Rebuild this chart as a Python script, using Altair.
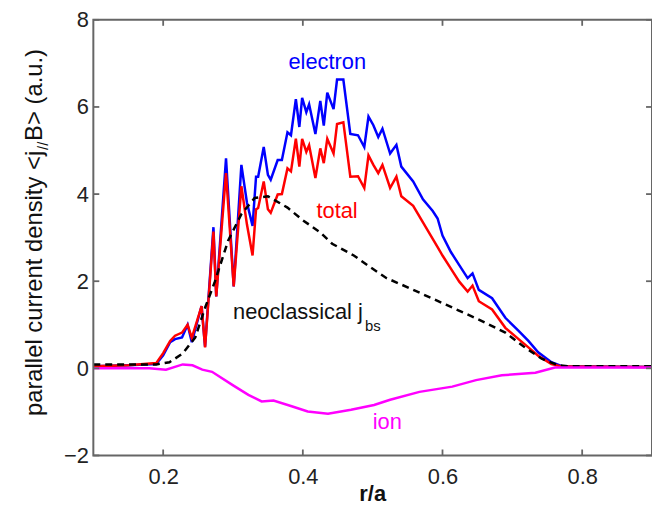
import altair as alt
import pandas as pd

# ---- data ----
r_main = [0.10, 0.15, 0.19, 0.200, 0.210, 0.217, 0.227, 0.235, 0.241, 0.255, 0.260, 0.272, 0.276,
          0.290, 0.301, 0.312, 0.320, 0.328, 0.333, 0.336, 0.344, 0.350, 0.354, 0.364, 0.370,
          0.378, 0.383, 0.390, 0.395, 0.399, 0.405, 0.409, 0.418, 0.425, 0.430, 0.435, 0.444,
          0.449, 0.458, 0.468, 0.479, 0.488, 0.494, 0.501, 0.508, 0.514, 0.525, 0.534, 0.541,
          0.558, 0.572, 0.586, 0.593, 0.600, 0.612, 0.624, 0.636, 0.643, 0.652, 0.671, 0.690,
          0.709, 0.723, 0.737, 0.756, 0.771, 0.90]
electron = [0.05, 0.07, 0.10, 0.30, 0.60, 0.67, 0.71, 1.00, 0.60, 1.43, 0.50, 3.24, 1.65,
            4.82, 1.88, 4.67, 3.80, 3.27, 4.40, 4.40, 5.08, 4.44, 4.33, 4.78, 4.78,
            5.42, 5.35, 6.18, 5.54, 6.21, 5.88, 6.06, 5.38, 6.14, 5.57, 6.33, 5.95,
            6.63, 6.63, 5.38, 5.35, 5.08, 5.78, 5.58, 5.31, 5.50, 4.93, 5.13, 4.63,
            4.29, 3.88, 3.61, 3.44, 3.05, 2.67, 2.37, 2.07, 2.18, 1.80, 1.61, 1.16,
            0.86, 0.63, 0.37, 0.14, 0.05, 0.03]
total = [0.05, 0.07, 0.12, 0.35, 0.63, 0.75, 0.82, 1.00, 0.70, 1.43, 0.48, 3.14, 1.65,
         4.48, 1.88, 4.18, 3.30, 2.59, 3.65, 3.68, 4.29, 3.65, 3.57, 3.99, 4.00,
         4.59, 4.52, 5.27, 4.63, 5.27, 4.97, 5.12, 4.37, 5.05, 4.71, 5.27, 4.93,
         5.61, 5.65, 4.40, 4.41, 4.14, 4.89, 4.67, 4.48, 4.67, 4.14, 4.40, 3.95,
         3.73, 3.35, 2.97, 2.78, 2.59, 2.29, 1.99, 1.76, 1.90, 1.54, 1.35, 0.93,
         0.67, 0.48, 0.29, 0.10, 0.04, 0.03]

r_nc = [0.10, 0.19, 0.209, 0.228, 0.246, 0.260, 0.274, 0.293, 0.312, 0.331, 0.350, 0.378,
        0.400, 0.425, 0.442, 0.473, 0.496, 0.520, 0.553, 0.605, 0.652, 0.690, 0.718, 0.742,
        0.766, 0.780, 0.90]
neoclassical = [0.09, 0.09, 0.14, 0.34, 0.71, 1.39, 1.99, 2.93, 3.54, 3.91, 3.95, 3.69,
                3.40, 3.12, 2.86, 2.59, 2.33, 2.07, 1.84, 1.46, 1.12, 0.82, 0.48, 0.22,
                0.07, 0.05, 0.05]

r_ion = [0.10, 0.18, 0.204, 0.228, 0.242, 0.256, 0.270, 0.299, 0.322, 0.341, 0.358, 0.384,
         0.407, 0.436, 0.469, 0.502, 0.525, 0.567, 0.614, 0.648, 0.685, 0.733, 0.761, 0.90]
ion = [0.00, 0.00, -0.03, 0.09, 0.07, -0.03, -0.08, -0.38, -0.61, -0.76, -0.74, -0.87,
       -0.99, -1.04, -0.95, -0.84, -0.72, -0.54, -0.42, -0.27, -0.16, -0.10, 0.02, 0.02]

x_ticks = [0.2, 0.4, 0.6, 0.8]
y_ticks = [-2, 0, 2, 4, 6, 8]

label_text = ["electron", "total", "ion"]
label_x = [0.435, 0.449, 0.521]
label_y = [6.88, 3.46, -1.40]
label_color = ["#0000FF", "#FF0000", "#FF00FF"]

FONT = "Liberation Sans"
FS = 22
W, H = 563, 439
FRAME = "#666"

xs = alt.Scale(domain=[0.1, 0.9], nice=False, zero=False)
ys = alt.Scale(domain=[-2, 8], nice=False, zero=False)

df_main = pd.DataFrame({"r": r_main, "electron": electron, "total": total})
df_nc = pd.DataFrame({"r": r_nc, "v": neoclassical})
df_ion = pd.DataFrame({"r": r_ion, "v": ion})

X = alt.X("r:Q", scale=xs,
          axis=alt.Axis(values=x_ticks, format=".1f", title=None, ticks=False, domain=False,
                        grid=False, labelFontSize=FS, labelFont=FONT, labelColor="#222",
                        labelPadding=11))
YAX = alt.Axis(values=y_ticks, format="d", title=None, ticks=False, domain=False, grid=False,
               labelFontSize=FS, labelFont=FONT, labelColor="#222", labelPadding=5)

base = alt.Chart(df_main)
l_el = base.mark_line(color="#0000FF", strokeWidth=2.5).encode(
    x=X, y=alt.Y("electron:Q", scale=ys, axis=YAX))
l_tot = base.mark_line(color="#FF0000", strokeWidth=2.5).encode(
    x=alt.X("r:Q", scale=xs), y=alt.Y("total:Q", scale=ys))
l_nc = alt.Chart(df_nc).mark_line(color="#000000", strokeWidth=2.5, strokeDash=[7, 5]).encode(
    x=alt.X("r:Q", scale=xs), y=alt.Y("v:Q", scale=ys))
l_ion = alt.Chart(df_ion).mark_line(color="#FF00FF", strokeWidth=2.5).encode(
    x=alt.X("r:Q", scale=xs), y=alt.Y("v:Q", scale=ys))

# frame and inward ticks on all four sides
one = alt.Data(values=[{}])
frame = alt.Chart(one).mark_rect(fill=None, stroke=FRAME, strokeWidth=2).encode(
    x=alt.value(0), x2=alt.value(W), y=alt.value(0), y2=alt.value(H))
df_xt = pd.DataFrame({"t": x_ticks})
df_yt = pd.DataFrame({"t": y_ticks})
xt_b = alt.Chart(df_xt).mark_rule(color=FRAME, strokeWidth=1.8).encode(
    x=alt.X("t:Q", scale=xs), y=alt.value(H), y2=alt.value(H - 6))
xt_t = alt.Chart(df_xt).mark_rule(color=FRAME, strokeWidth=1.8).encode(
    x=alt.X("t:Q", scale=xs), y=alt.value(0), y2=alt.value(6))
yt_l = alt.Chart(df_yt).mark_rule(color=FRAME, strokeWidth=1.8).encode(
    y=alt.Y("t:Q", scale=ys), x=alt.value(0), x2=alt.value(6))
yt_r = alt.Chart(df_yt).mark_rule(color=FRAME, strokeWidth=1.8).encode(
    y=alt.Y("t:Q", scale=ys), x=alt.value(W), x2=alt.value(W - 6))

# curve labels
df_lab = pd.DataFrame({"text": label_text, "x": label_x, "y": label_y, "c": label_color})
labels = alt.Chart(df_lab).mark_text(fontSize=FS, font=FONT, align="center",
                                     baseline="alphabetic").encode(
    x=alt.X("x:Q", scale=xs), y=alt.Y("y:Q", scale=ys), text="text:N",
    color=alt.Color("c:N", scale=None))
nc_lab = alt.Chart(pd.DataFrame({"text": ["neoclassical j"], "x": [0.300], "y": [1.13]})).mark_text(
    fontSize=FS, font=FONT, align="left", baseline="alphabetic", color="#111").encode(
    x=alt.X("x:Q", scale=xs), y=alt.Y("y:Q", scale=ys), text="text:N")
nc_sub = alt.Chart(pd.DataFrame({"text": ["bs"], "x": [0.489], "y": [0.86]})).mark_text(
    fontSize=15, font=FONT, align="left", baseline="alphabetic", color="#111").encode(
    x=alt.X("x:Q", scale=xs), y=alt.Y("y:Q", scale=ys), text="text:N")

# axis titles (y title with subscript, rotated)
TOP = 18  # page y of plot top
YFS = 24
yt1 = alt.Chart(one).mark_text(text="parallel current density <j", angle=270, align="right",
                               baseline="alphabetic", fontSize=YFS, font=FONT, color="#111").encode(
    x=alt.value(-52), y=alt.value(150 - TOP))
yt2 = alt.Chart(one).mark_text(text="//", angle=270, align="center", baseline="alphabetic",
                               fontSize=15, font=FONT, color="#111").encode(
    x=alt.value(-46), y=alt.value(145 - TOP))
yt3 = alt.Chart(one).mark_text(text="B> (a.u.)", angle=270, align="left", baseline="alphabetic",
                               fontSize=YFS, font=FONT, color="#111").encode(
    x=alt.value(-52), y=alt.value(140 - TOP))
xtitle = alt.Chart(one).mark_text(text="r/a", align="center", baseline="alphabetic",
                                  fontSize=FS, fontWeight="bold", font=FONT, color="#111").encode(
    x=alt.value(W / 2), y=alt.value(H + 46))

chart = alt.layer(l_el, l_tot, l_nc, l_ion, frame, xt_b, xt_t, yt_l, yt_r, labels, nc_lab,
                  nc_sub, yt1, yt2, yt3, xtitle).properties(
    width=W, height=H,
    padding={"left": 86, "top": 10, "right": 0, "bottom": 49},
    autosize=alt.AutoSizeParams(type="none"),
    background="white",
).configure(font=FONT).configure_view(stroke=None)

chart.save("out.html", embed_options={"renderer": "svg", "actions": False})
